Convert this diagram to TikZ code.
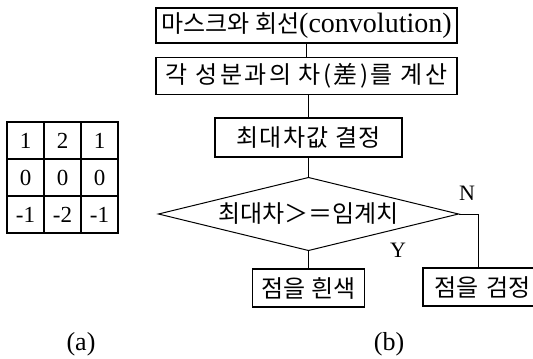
\documentclass[tikz,border=0pt]{standalone}
\usepackage{fontspec}
\setmainfont{Liberation Serif}
\newfontfamily\kr{Noto Sans CJK KR}
\usetikzlibrary{shapes.geometric,matrix}

\begin{document}
\begin{tikzpicture}[x=0.5pt, y=-0.5pt,
        box/.style={draw, rectangle, line width=0.6pt, inner sep=0pt, outer sep=0pt, font=\kr\fontsize{12}{14}\selectfont},
        link/.style={line width=0.5pt}]
        \useasboundingbox[fill=white] (0,0) rectangle (533,358);

        % Mask (a)
        \matrix (sobel) [matrix of nodes, line width=0.6pt,
            nodes={draw, minimum size=18.5pt, inner sep=0pt, outer sep=0pt, font=\fontsize{11.5}{13}\selectfont},
            column sep=-0.6pt, row sep=-0.6pt] at (62.5,177.5) {
            1 & 2 & 1 \\
            0 & 0 & 0 \\
            -1 & -2 & -1 \\
        };

        % Flow (b)
        \node[box, minimum width=150.5pt, minimum height=17.5pt] (mask) at (306.5,25.5) {마스크와 회선{\rmfamily\fontsize{14}{16}\selectfont(convolution)}};
        \node[box, minimum width=150.5pt, minimum height=18.5pt, below of=mask, node distance=25.25pt] (diff) {\addfontfeature{LetterSpace=10}각 성분과의 차(差)를 계산};
        \node[box, minimum width=93.5pt, minimum height=19.5pt, below of=diff, node distance=30.75pt, xshift=1pt] (maxd) {\addfontfeature{LetterSpace=5}최대차값 결정};
        \node[draw, diamond, aspect=4, line width=0.5pt, inner sep=0pt, outer sep=0pt, minimum width=150pt, minimum height=36.5pt,
            font=\kr\fontsize{12}{14}\selectfont, below of=maxd, node distance=38.25pt] (test) {최대차＞＝임계치};
        \node[box, minimum width=56pt, minimum height=19pt, below of=test, node distance=37pt] (white) {점을 흰색};
        \node[box, minimum width=70pt, minimum height=19pt, anchor=north west, text width=65pt, align=left] (black) at (423,268) {\hspace{3pt}점을 검정};
        \coordinate (turn) at (478,268);

        % Labels
        \node[font=\fontsize{11}{13}\selectfont] (yes) at (398,250) {Y};
        \node[font=\fontsize{11}{13}\selectfont] (no) at (467,193) {N};
        \node[font=\fontsize{13}{15}\selectfont] (capa) at (81,344) {(a)};
        \node[font=\fontsize{13}{15}\selectfont] (capb) at (389,344) {(b)};

        % Lines
        \draw[link] (mask.south -| diff.north) -- (diff.north);
        \draw[link] (diff.south -| maxd.north) -- (maxd.north);
        \draw[link] (maxd.south -| test.north) -- (test.north);
        \draw[link] (test.south) -- (white.north);
        \draw[link] (test.east) -| (turn);
    \end{tikzpicture}
\end{document}
